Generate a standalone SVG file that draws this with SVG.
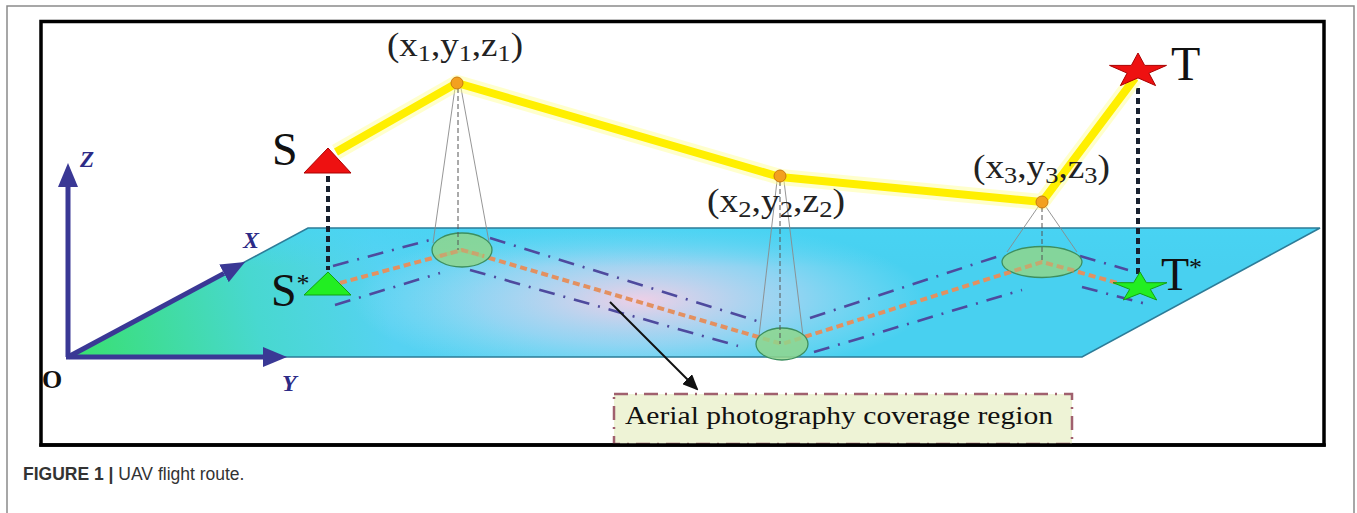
<svg xmlns="http://www.w3.org/2000/svg" width="1357" height="513" viewBox="0 0 1357 513">
  <style>
    .serif { font-family: "Liberation Serif", "Times New Roman", serif; fill: #111; }
    .axlbl { font-family: "Liberation Serif", serif; font-weight: bold; font-style: italic; fill: #2c2a86; }
    .coord { font-family: "Liberation Serif", serif; font-size: 34px; fill: #222; }
    .sub { font-size: 24px; }
    .cone { stroke: #8a8a8a; stroke-width: 0.9; fill: none; }
    .axis { stroke-dasharray: 5 3; stroke: #555; stroke-width: 1; fill: none; }
    .foot { fill: #8fd68c; fill-opacity: 0.85; stroke: #3d8f5f; stroke-width: 1.3; }
    .wp { fill: #f3a01f; stroke: #c97a10; stroke-width: 1; }
    .corr { fill: none; stroke: #4e4a9e; stroke-width: 2.6; stroke-dasharray: 16 9 2 9; }
    .drop { stroke: #17202e; stroke-width: 4; stroke-dasharray: 6 4; fill: none; }
  </style>
  <defs>
    <marker id="axArrow" viewBox="0 0 24 20" refX="0" refY="10" markerWidth="24" markerHeight="20" orient="auto" markerUnits="userSpaceOnUse">
      <path d="M0,0 L24,10 L0,20 z" fill="#3a3895"/>
    </marker>
    <marker id="blkArrow" viewBox="0 0 16 14" refX="14" refY="7" markerWidth="16" markerHeight="14" orient="auto" markerUnits="userSpaceOnUse">
      <path d="M0,0 L16,7 L0,14 z" fill="#111"/>
    </marker>
    <linearGradient id="planeG" gradientUnits="userSpaceOnUse" x1="68" y1="357" x2="700" y2="228">
      <stop offset="0" stop-color="#38e06c"/>
      <stop offset="0.3" stop-color="#48d8d0"/>
      <stop offset="0.5" stop-color="#56d2f2"/>
      <stop offset="1" stop-color="#48d0f0"/>
    </linearGradient>
    <radialGradient id="pinkG" gradientUnits="userSpaceOnUse" cx="640" cy="300" r="180" gradientTransform="translate(640 300) scale(1.6 0.45) translate(-640 -300)">
      <stop offset="0" stop-color="#f6cfe6" stop-opacity="0.95"/>
      <stop offset="0.55" stop-color="#d8d8f4" stop-opacity="0.5"/>
      <stop offset="1" stop-color="#c0e6f8" stop-opacity="0"/>
    </radialGradient>
    <linearGradient id="topG" x1="0" y1="0" x2="0" y2="1">
      <stop offset="0" stop-color="#48d4f4" stop-opacity="0.7"/>
      <stop offset="0.3" stop-color="#48d4f4" stop-opacity="0"/>
    </linearGradient>
  </defs>

  <rect width="1357" height="513" fill="#fff"/>
  <!-- outer page frame -->
  <path d="M7,513 V6 H1354 V513" fill="none" stroke="#8a8a8a" stroke-width="1.5"/>
  <!-- inner figure frame -->
  <rect x="41" y="21.5" width="1283" height="423.5" fill="#fff" stroke="#000" stroke-width="3.5"/>

  <g id="plane">
    <polygon points="68,357 308,228 1320,228 1082,357" fill="url(#planeG)"/>
    <polygon points="68,357 308,228 1320,228 1082,357" fill="url(#pinkG)"/>
    <polygon points="68,357 308,228 1320,228 1082,357" fill="url(#topG)"/>
    <polygon points="68,357 308,228 1320,228 1082,357" fill="none" stroke="#2d7c98" stroke-width="1.6"/>
  </g>

  <g id="axes">
    <line x1="68" y1="357" x2="68" y2="187" stroke="#3a3895" stroke-width="5" marker-end="url(#axArrow)"/>
    <line x1="68" y1="357" x2="224" y2="273.4" stroke="#3a3895" stroke-width="5" marker-end="url(#axArrow)"/>
    <line x1="66" y1="357" x2="263" y2="357" stroke="#3a3895" stroke-width="5" marker-end="url(#axArrow)"/>
    <text class="axlbl" x="80" y="167" font-size="23">Z</text>
    <text class="axlbl" x="243" y="248" font-size="24">X</text>
    <text class="axlbl" x="282" y="391" font-size="24">Y</text>
    <text class="serif" x="42" y="388" font-size="26" font-weight="bold">O</text>
  </g>

  <g id="connectors">
    <!-- coverage corridor -->
    <path class="corr" d="M333,266 L430,240"/>
    <path class="corr" d="M335,305 L440,273"/>
    <path class="corr" d="M490,238 L760,322"/>
    <path class="corr" d="M470,270 L738,346"/>
    <path class="corr" d="M810,318 L1002,255"/>
    <path class="corr" d="M814,352 L1022,290"/>
    <path class="corr" d="M1080,256 L1128,270"/>
    <path class="corr" d="M1082,287 L1150,305"/>
    <!-- ground route -->
    <polyline points="340,283 462,250 782,344 1042,262 1132,287" fill="none" stroke="#e39060" stroke-width="4" stroke-dasharray="7 4"/>
    <!-- camera cones -->
    <path class="cone" d="M455,88 L433,243 M461,88 L489,242"/>
    <path class="cone" d="M777,181 L759,336 M784,181 L803,336"/>
    <path class="cone" d="M1038,207 L1007,252 M1046,207 L1077,252"/>
    <!-- vertical drops -->
    <line class="drop" x1="328" y1="176" x2="328" y2="270"/>
    <line class="drop" x1="1138" y1="88" x2="1138" y2="274"/>
    <!-- flight path -->
    <polyline points="336,152 457,83 780,177 1042,202 1135,78" fill="none" stroke="#ffff90" stroke-opacity="0.45" stroke-width="16" stroke-linejoin="round"/>
    <polyline points="336,152 457,83 780,177 1042,202 1135,78" fill="none" stroke="#ffef00" stroke-width="8" stroke-linejoin="round"/>
    <!-- pointer arrow -->
    <line x1="610" y1="302" x2="697" y2="389" stroke="#111" stroke-width="2" marker-end="url(#blkArrow)"/>
  </g>

  <g id="footprint1">
    <ellipse class="foot" cx="462" cy="250" rx="30" ry="17"/>
    <path class="axis" d="M458,88 V250"/>
  </g>
  <g id="footprint2">
    <ellipse class="foot" cx="782" cy="344" rx="26" ry="16"/>
    <path class="axis" d="M780,181 V344"/>
  </g>
  <g id="footprint3">
    <ellipse class="foot" cx="1042" cy="262" rx="40" ry="15.5"/>
    <path class="axis" d="M1042,207 V262"/>
  </g>
  <polyline points="440,256 462,250 484,256" fill="none" stroke="#e39060" stroke-width="4" stroke-dasharray="7 4" opacity="0.7"/>
  <polyline points="1004,274 1042,262 1080,272" fill="none" stroke="#e39060" stroke-width="4" stroke-dasharray="7 4" opacity="0.6"/>

  <g id="S">
    <polygon points="328,148 351,173 304,173" fill="#ee1111" stroke="#aa0000" stroke-width="1"/>
    <text class="serif" x="272" y="165" font-size="46">S</text>
  </g>
  <g id="Sstar">
    <polygon points="328,272 351,295 304,295" fill="#22ee22" stroke="#13a013" stroke-width="1"/>
    <text class="serif" x="271" y="306" font-size="46">S<tspan font-size="26" dy="-14">*</tspan></text>
  </g>
  <g id="P1">
    <circle class="wp" cx="457" cy="83" r="6"/>
    <text class="coord" x="387" y="56" textLength="136" lengthAdjust="spacingAndGlyphs">(x<tspan class="sub" dy="5">1</tspan><tspan dy="-5">,y</tspan><tspan class="sub" dy="5">1</tspan><tspan dy="-5">,z</tspan><tspan class="sub" dy="5">1</tspan><tspan dy="-5">)</tspan></text>
  </g>
  <g id="P2">
    <circle class="wp" cx="780" cy="176" r="6"/>
    <text class="coord" x="707" y="212" textLength="138" lengthAdjust="spacingAndGlyphs">(x<tspan class="sub" dy="5">2</tspan><tspan dy="-5">,y</tspan><tspan class="sub" dy="5">2</tspan><tspan dy="-5">,z</tspan><tspan class="sub" dy="5">2</tspan><tspan dy="-5">)</tspan></text>
  </g>
  <g id="P3">
    <circle class="wp" cx="1042" cy="202" r="6"/>
    <text class="coord" x="973" y="178" textLength="137" lengthAdjust="spacingAndGlyphs">(x<tspan class="sub" dy="5">3</tspan><tspan dy="-5">,y</tspan><tspan class="sub" dy="5">3</tspan><tspan dy="-5">,z</tspan><tspan class="sub" dy="5">3</tspan><tspan dy="-5">)</tspan></text>
  </g>
  <g id="T">
    <polygon points="1138,53 1144.7,65.4 1166.5,65.4 1148.9,73.1 1155.6,85.6 1138,77.9 1120.4,85.6 1127.1,73.1 1109.5,65.4 1131.3,65.4" fill="#ee1111" stroke="#aa0000" stroke-width="1"/>
    <text class="serif" x="1171" y="80" font-size="48">T</text>
  </g>
  <g id="Tstar">
    <polygon points="1140,272 1146.4,282.7 1167,282.7 1150.3,289.3 1156.7,300 1140,293.4 1123.3,300 1129.7,289.3 1113,282.7 1133.6,282.7" fill="#22ee22" stroke="#13a013" stroke-width="1"/>
    <text class="serif" x="1161" y="290" font-size="46">T<tspan font-size="26" dy="-14">*</tspan></text>
  </g>

  <g id="coverageLabel">
    <rect x="614" y="394" width="458" height="50" fill="#eef3d6" stroke="#a0606e" stroke-width="2.5" stroke-dasharray="14 7 2 7"/>
    <text class="serif" x="625" y="424" font-size="26" fill="#222" textLength="428" lengthAdjust="spacingAndGlyphs">Aerial photography coverage region</text>
  </g>
  <!-- redraw frame bottom over label -->
  <line x1="39.25" y1="445" x2="1325.75" y2="445" stroke="#000" stroke-width="3.5"/>

  <g id="caption">
    <text x="23" y="480" font-family="Liberation Sans, Arial, sans-serif" font-size="17.5" fill="#333"><tspan font-weight="bold">FIGURE 1 |</tspan> UAV flight route.</text>
  </g>
</svg>
